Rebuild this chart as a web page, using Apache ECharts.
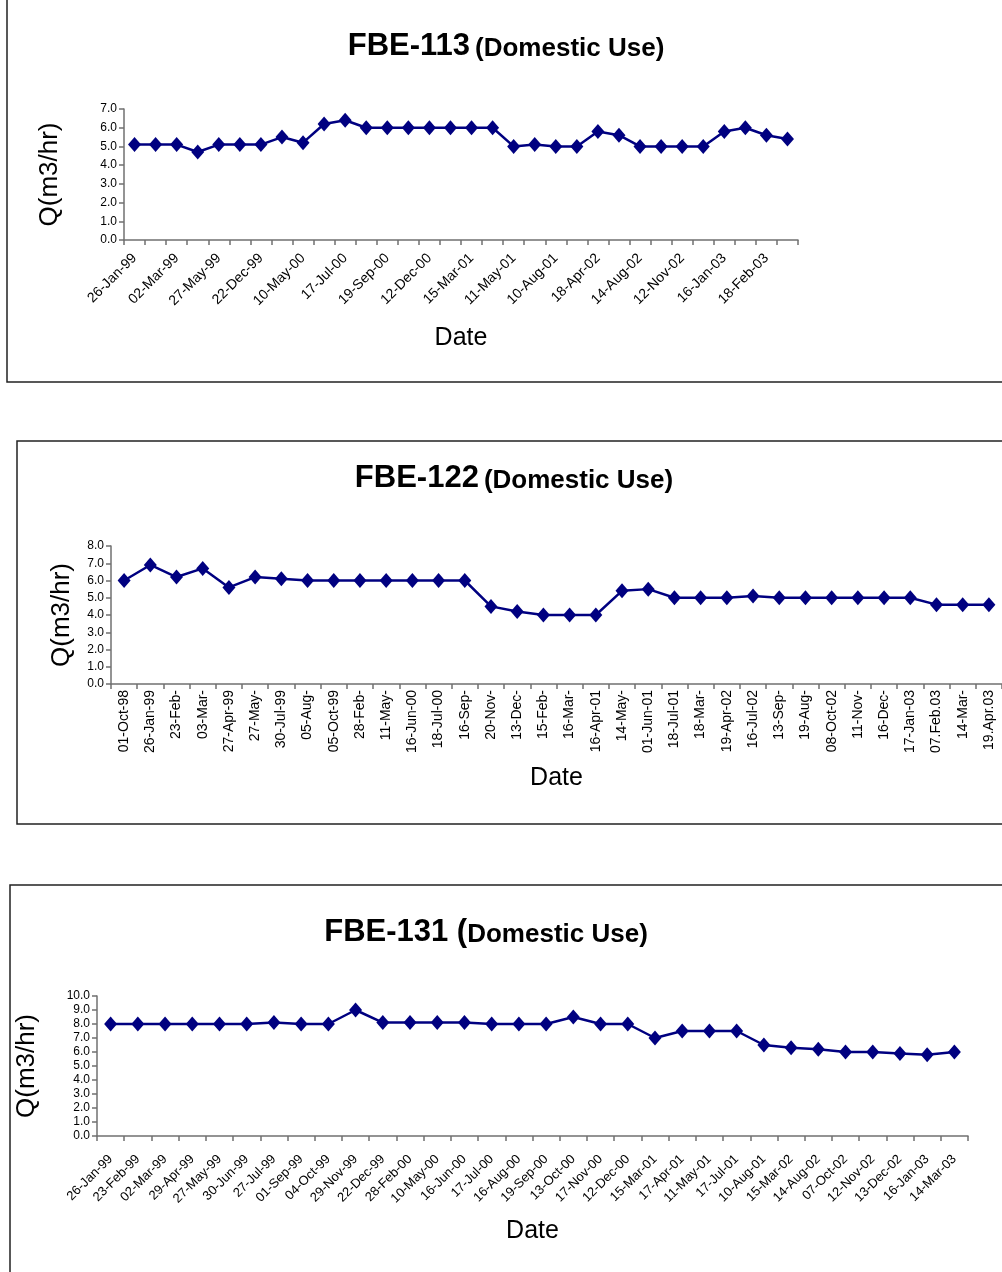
<!DOCTYPE html>
<html>
<head>
<meta charset="utf-8">
<script src="https://cdn.jsdelivr.net/npm/echarts@6/dist/echarts.min.js"></script>
<style>
  html, body { margin: 0; padding: 0; background: #fff; }
  #chart { width: 1002px; height: 1272px; }
</style>
</head>
<body>
<div id="chart"></div>
<script>
// FBE-113: sampling dates (only every second date is printed on the axis)
const dates113 = ['26-Jan-99','','02-Mar-99','','27-May-99','','22-Dec-99','','10-May-00','',
  '17-Jul-00','','19-Sep-00','','12-Dec-00','','15-Mar-01','','11-May-01','',
  '10-Aug-01','','18-Apr-02','','14-Aug-02','','12-Nov-02','','16-Jan-03','',
  '18-Feb-03',''];
const flow113 = [5.1,5.1,5.1,4.7,5.1,5.1,5.1,5.5,5.2,6.2,6.4,6.0,6.0,6.0,6.0,6.0,6.0,6.0,
  5.0,5.1,5.0,5.0,5.8,5.6,5.0,5.0,5.0,5.0,5.8,6.0,5.6,5.4];

// FBE-122
const dates122 = ['01-Oct-98','26-Jan-99','23-Feb-','03-Mar-','27-Apr-99','27-May-','30-Jul-99',
  '05-Aug-','05-Oct-99','28-Feb-','11-May-','16-Jun-00','18-Jul-00','16-Sep-','20-Nov-',
  '13-Dec-','15-Feb-','16-Mar-','16-Apr-01','14-May-','01-Jun-01','18-Jul-01','18-Mar-',
  '19-Apr-02','16-Jul-02','13-Sep-','19-Aug-','08-Oct-02','11-Nov-','16-Dec-','17-Jan-03',
  '07.Feb.03','14-Mar-','19.Apr.03'];
const flow122 = [6.0,6.9,6.2,6.7,5.6,6.2,6.1,6.0,6.0,6.0,6.0,6.0,6.0,6.0,4.5,4.2,4.0,4.0,4.0,
  5.4,5.5,5.0,5.0,5.0,5.1,5.0,5.0,5.0,5.0,5.0,5.0,4.6,4.6,4.6];

// FBE-131
const dates131 = ['26-Jan-99','23-Feb-99','02-Mar-99','29-Apr-99','27-May-99','30-Jun-99',
  '27-Jul-99','01-Sep-99','04-Oct-99','29-Nov-99','22-Dec-99','28-Feb-00','10-May-00',
  '16-Jun-00','17-Jul-00','16-Aug-00','19-Sep-00','13-Oct-00','17-Nov-00','12-Dec-00',
  '15-Mar-01','17-Apr-01','11-May-01','17-Jul-01','10-Aug-01','15-Mar-02','14-Aug-02',
  '07-Oct-02','12-Nov-02','13-Dec-02','16-Jan-03','14-Mar-03'];
const flow131 = [8.0,8.0,8.0,8.0,8.0,8.0,8.1,8.0,8.0,9.0,8.1,8.1,8.1,8.1,8.0,8.0,8.0,8.5,
  8.0,8.0,7.0,7.5,7.5,7.5,6.5,6.3,6.2,6.0,6.0,5.9,5.8,6.0];

const FONT = '"Liberation Sans", Arial, sans-serif';
const NAVY = '#000080';
const AXIS = '#707070';

const titleRich = {
  big: { fontFamily: FONT, fontSize: 31, fontWeight: 'bold', color: '#000', lineHeight: 36, verticalAlign: 'bottom' },
  small: { fontFamily: FONT, fontSize: 26, fontWeight: 'bold', color: '#000', lineHeight: 36, verticalAlign: 'bottom' }
};

function xAxisFor(gridIndex, data, opts) {
  return {
    type: 'category', gridIndex: gridIndex, data: data, boundaryGap: true,
    name: 'Date', nameLocation: 'middle', nameGap: opts.nameGap,
    nameTextStyle: { fontFamily: FONT, fontSize: 25, color: '#000' },
    axisLine: { lineStyle: { color: AXIS, width: 1.5 } },
    axisTick: { show: true, interval: 0, length: 5, alignWithLabel: false, lineStyle: { color: AXIS, width: 1.5 } },
    axisLabel: {
      interval: opts.labelInterval, rotate: opts.rotate, margin: opts.margin,
      fontFamily: FONT, fontSize: opts.fontSize, color: '#000'
    },
    splitLine: { show: false }
  };
}

function yAxisFor(gridIndex, max, nameGap) {
  return {
    type: 'value', gridIndex: gridIndex, min: 0, max: max, interval: 1,
    name: 'Q(m3/hr)', nameLocation: 'middle', nameGap: nameGap,
    nameTextStyle: { fontFamily: FONT, fontSize: 26, color: '#000' },
    axisLine: { show: true, lineStyle: { color: AXIS, width: 1.5 } },
    axisTick: { show: true, length: 5, lineStyle: { color: AXIS, width: 1.5 } },
    axisLabel: {
      margin: 7, fontFamily: FONT, fontSize: 12, color: '#000',
      formatter: v => v.toFixed(1)
    },
    splitLine: { show: false }
  };
}

function seriesFor(idx, values) {
  return {
    type: 'line', xAxisIndex: idx, yAxisIndex: idx, data: values,
    symbol: 'diamond', symbolSize: [13, 15], showAllSymbol: true,
    lineStyle: { color: NAVY, width: 2.5 },
    itemStyle: { color: NAVY, borderWidth: 0 },
    animation: false, silent: true
  };
}

const chart = echarts.init(document.getElementById('chart'), null, { renderer: 'canvas' });

chart.setOption({
  backgroundColor: '#fff',
  animation: false,
  title: [
    { text: '{big|FBE-113} {small|(Domestic Use)}', left: 506, top: 26, textAlign: 'center', padding: 0, textStyle: { rich: titleRich } },
    { text: '{big|FBE-122} {small|(Domestic Use)}', left: 514, top: 458, textAlign: 'center', padding: 0, textStyle: { rich: titleRich } },
    { text: '{big|FBE-131 (}{small|Domestic Use)}', left: 486, top: 912, textAlign: 'center', padding: 0, textStyle: { rich: titleRich } }
  ],
  grid: [
    { left: 124, right: 204, top: 109, height: 131 },
    { left: 111, right: 0, top: 546, height: 138 },
    { left: 97, right: 34, top: 996, height: 140 }
  ],
  xAxis: [
    xAxisFor(0, dates113, { labelInterval: 1, rotate: 45, margin: 16, nameGap: 86, fontSize: 14 }),
    xAxisFor(1, dates122, { labelInterval: 0, rotate: 90, margin: 6, nameGap: 82, fontSize: 14 }),
    xAxisFor(2, dates131, { labelInterval: 0, rotate: 45, margin: 21, nameGap: 83, fontSize: 13 })
  ],
  yAxis: [
    yAxisFor(0, 7, 61),
    yAxisFor(1, 8, 36),
    yAxisFor(2, 10, 57)
  ],
  series: [
    seriesFor(0, flow113),
    seriesFor(1, flow122),
    seriesFor(2, flow131)
  ],
  graphic: [
    { type: 'rect', silent: true, shape: { x: 7, y: -3, width: 1000, height: 385 },
      style: { fill: null, stroke: '#222', lineWidth: 1.5 } },
    { type: 'rect', silent: true, shape: { x: 17, y: 441, width: 990, height: 383 },
      style: { fill: null, stroke: '#222', lineWidth: 1.5 } },
    { type: 'rect', silent: true, shape: { x: 10, y: 885, width: 995, height: 400 },
      style: { fill: null, stroke: '#222', lineWidth: 1.5 } }
  ]
});
</script>
</body>
</html>
